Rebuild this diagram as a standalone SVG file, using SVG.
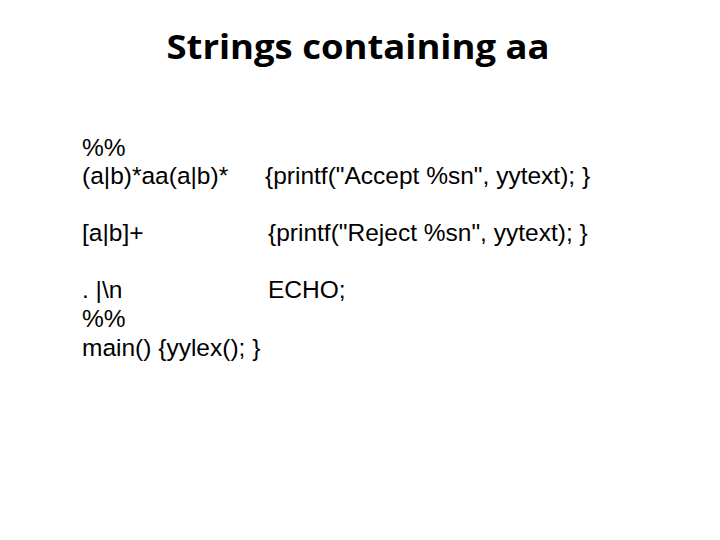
<svg xmlns="http://www.w3.org/2000/svg" width="720" height="540" viewBox="0 0 720 540">
<style>
.t{font-family:"Liberation Sans",Arial,sans-serif;font-size:24.5px;fill:#000}
.h{font-family:"Open Sans","Liberation Sans",sans-serif;font-weight:bold;font-size:34px;fill:#000}
</style>
<rect width="720" height="540" fill="#fff"/>
<g id="title"><text class="h" x="358" y="59" text-anchor="middle" textLength="383" lengthAdjust="spacingAndGlyphs">Strings containing aa</text></g>
<g id="body">
<text class="t" x="82" y="156">%%</text>
<text class="t" x="82" y="184">(a|b)*aa(a|b)*</text>
<text class="t" x="265" y="184">{printf("Accept %sn", yytext); }</text>
<text class="t" x="82" y="241">[a|b]+</text>
<text class="t" x="268" y="241">{printf("Reject %sn", yytext); }</text>
<text class="t" x="82" y="298">. |\n</text>
<text class="t" x="268" y="298">ECHO;</text>
<text class="t" x="82" y="327">%%</text>
<text class="t" x="82" y="356">main() {yylex(); }</text>
</g>
</svg>
